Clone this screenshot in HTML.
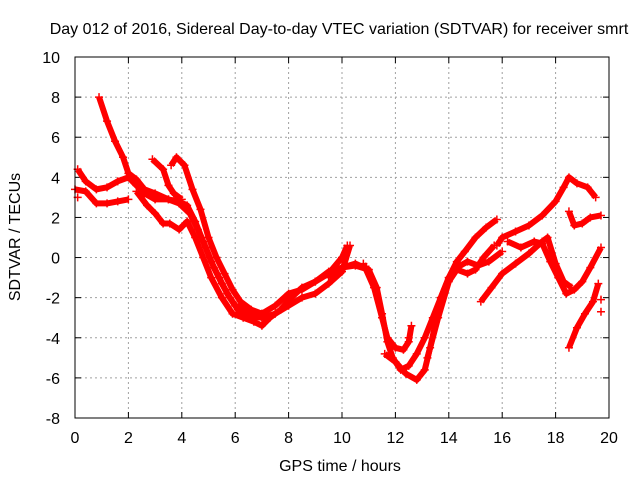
<!DOCTYPE html>
<html><head><meta charset="utf-8"><style>
body{margin:0;background:#fff}
svg text{font-family:"Liberation Sans",sans-serif;font-size:16px;fill:#000}
</style></head><body>
<svg id="chart" width="640" height="480">
<text x="339" y="34" text-anchor="middle">Day 012 of 2016, Sidereal Day-to-day VTEC variation (SDTVAR) for receiver smrt</text>
<text x="340" y="471" text-anchor="middle">GPS time / hours</text>
<text x="20" y="237" text-anchor="middle" transform="rotate(-90 20 237)">SDTVAR / TECUs</text>
<g id="grid"></g><g id="series"></g>
<rect x="75" y="57" width="534" height="361" fill="none" stroke="#000" stroke-width="1"/>
</svg>
<script>
const xTicks=[0,2,4,6,8,10,12,14,16,18,20];
const yTicks=[-8,-6,-4,-2,0,2,4,6,8,10];
const trackA=[[0.9,8],[1.2,6.8],[1.5,5.8],[1.8,5.0],[2.0,4.2],[2.3,3.9],[2.6,3.4],[3.0,3.2],[3.5,2.9],[3.9,2.8],[4.2,2.6],[4.5,1.8],[4.8,0.8],[5.1,-0.2],[5.4,-1.0],[5.7,-1.8],[6.0,-2.4],[6.5,-2.6],[7.0,-2.8],[7.5,-2.4],[8.0,-1.8],[8.5,-1.6],[9.0,-1.2],[9.5,-0.7],[10,-0.5],[10.5,-0.4],[11,-0.6]];
const trackB=[[0.1,4.4],[0.4,3.8],[0.8,3.4],[1.2,3.5],[1.6,3.8],[2.0,4.0],[2.3,3.6],[2.6,3.2],[3.0,2.9],[3.5,2.9],[3.9,2.7],[4.3,2.2],[4.6,1.4],[4.9,0.5],[5.2,-0.5],[5.5,-1.3],[5.8,-2.0],[6.1,-2.6],[6.5,-2.9],[7.0,-3.0],[7.5,-2.8],[8,-2.4],[8.5,-2.0],[9,-1.8],[9.5,-1.3],[10,-0.7],[10.3,0.6]];
const trackC=[[0,3.4],[0.4,3.3],[0.8,2.7],[1.2,2.7],[1.6,2.8],[2.0,2.9]];
const trackD=[[2.9,4.9],[3.3,4.4],[3.5,3.6],[3.7,3.2],[4.0,2.9]];
const trackE=[[3.6,4.6],[3.8,5.0],[4.1,4.6],[4.4,3.4],[4.7,2.4],[5.0,1.0],[5.3,0],[5.6,-0.8],[5.9,-1.6],[6.2,-2.2],[6.6,-2.6],[7.0,-2.8]];
const trackF=[[2.3,3.3],[2.7,2.6],[3.0,2.2],[3.3,1.7],[3.55,1.7],[3.9,1.4],[4.2,1.8],[4.5,1.0],[4.8,0],[5.1,-1.0],[5.5,-2],[5.9,-2.8],[6.3,-3.0],[6.7,-3.2],[7.0,-3.4],[7.3,-3.0],[7.7,-2.6],[8.1,-2.0],[8.5,-1.5],[9.0,-1.2],[9.5,-0.8],[10,0],[10.2,0.6]];
const trackG=[[9.5,-1.0],[10,-0.5],[10.5,-0.3],[11.0,-0.6],[11.3,-1.5],[11.5,-2.8],[11.7,-4.2],[11.9,-5.0],[12.2,-5.6],[12.5,-5.4],[12.8,-4.8],[13.1,-4.0],[13.4,-3.0],[13.7,-2],[14,-1],[14.3,-0.5],[14.7,-0.2],[15.1,-0.4],[15.5,-0.2],[16.0,0.3]];
const trackH=[[10.8,-0.3],[11.2,-1.5],[11.5,-3.0],[11.7,-4.0],[12,-4.5],[12.3,-4.6],[12.5,-4.2],[12.6,-3.4]];
const trackI=[[11.6,-4.8],[12.0,-5.2],[12.4,-5.8],[12.8,-6.1],[13.1,-5.6],[13.3,-4.5],[13.5,-3.3],[13.7,-2.0],[14,-1.0],[14.3,-0.2],[14.6,0.3],[15,1.0],[15.4,1.5],[15.8,1.9]];
const trackJ=[[15.8,0.6],[16.0,1.0],[16.5,1.3],[17,1.6],[17.5,2.1],[18,2.8],[18.3,3.5],[18.5,4.0],[18.8,3.7],[19.2,3.5],[19.5,3.0]];
const trackK=[[18.5,2.3],[18.7,1.6],[19.0,1.7],[19.3,2.0],[19.7,2.1]];
const trackL=[[16.2,0.8],[16.7,0.5],[17.2,0.8],[17.5,0.7],[17.8,-0.2],[18.1,-1.0],[18.4,-1.8],[18.7,-1.6],[19,-1.2],[19.3,-0.5],[19.7,0.5]];
const trackM=[[15.2,-2.2],[15.6,-1.5],[16,-0.8],[16.5,-0.3],[17,0.2],[17.5,0.8],[17.7,1.0],[18,-0.3],[18.3,-1.2],[18.6,-1.5]];
const trackN=[[13.2,-5.0],[13.6,-3.0],[14.0,-1.2],[14.3,-0.6],[14.7,-0.8],[15.0,-0.6],[15.3,0.0],[15.7,0.6]];
const trackO=[[18.5,-4.5],[18.8,-3.5],[19.1,-2.8],[19.4,-2.2],[19.6,-1.3]];
const strays=[[19.7,-2.7],[19.7,-2.1],[12.5,-4.0],[0.1,3.0]];
const tracks=[trackA,trackB,trackC,trackD,trackE,trackF,trackG,trackH,trackI,trackJ,trackK,trackL,trackM,trackN,trackO];

const NS="http://www.w3.org/2000/svg";
const X0=75,X1=609,Y0=418,Y1=57;
function xs(t){return X0+(t-0)/(20-0)*(X1-X0);}
function ys(v){return Y0-(v-(-8))/(10-(-8))*(Y0-Y1);}
const grid=document.getElementById('grid'),ser=document.getElementById('series'),svg=document.getElementById('chart');
function mk(tag,attrs,parent){const e=document.createElementNS(NS,tag);for(const k in attrs)e.setAttribute(k,attrs[k]);parent.appendChild(e);return e;}
xTicks.forEach(t=>{const x=xs(t);
 if(t>0&&t<20){const g=mk('line',{x1:x,x2:x,y1:Y1,y2:Y0,stroke:'#a0a0a0','stroke-dasharray':'2,3'},grid);
 
 }
 mk('line',{x1:x,x2:x,y1:Y0,y2:Y0-6,stroke:'#000'},grid);mk('line',{x1:x,x2:x,y1:Y1,y2:Y1+6,stroke:'#000'},grid);
 const l=mk('text',{x:x,y:443,'text-anchor':'middle'},svg);l.textContent=t;
 
 });
yTicks.forEach(v=>{const y=ys(v);
 if(v>-8&&v<10){const g=mk('line',{x1:X0,x2:X1,y1:y,y2:y,stroke:'#a0a0a0','stroke-dasharray':'2,3'},grid);
 
 }
 mk('line',{x1:X0,x2:X0+6,y1:y,y2:y,stroke:'#000'},grid);mk('line',{x1:X1,x2:X1-6,y1:y,y2:y,stroke:'#000'},grid);
 const l=mk('text',{x:X0-15,y:y+6,'text-anchor':'end'},svg);l.textContent=v;
 
 });
function plus(t,v,parent){const x=xs(t),y=ys(v);
 const p=mk('path',{d:`M${x-4} ${y}H${x+4}M${x} ${y-4}V${y+4}`,stroke:'#f00','stroke-width':1.5},parent);
 
 }
tracks.forEach(tr=>{
 const g=mk('g',{},ser);
 
 
 mk('polyline',{points:tr.map(p=>xs(p[0])+','+ys(p[1])).join(' '),fill:'none',stroke:'#f00','stroke-width':6,'stroke-linejoin':'round'},g);
 tr.forEach(p=>plus(p[0],p[1],g));
});
strays.forEach(p=>plus(p[0],p[1],ser));
</script>
</body></html>
